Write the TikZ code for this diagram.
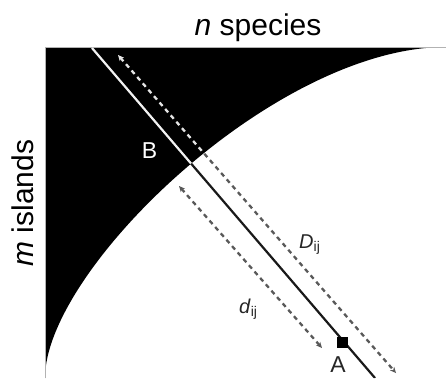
\documentclass[tikz,border=0pt]{standalone}
\usepackage{fontspec}
\setmainfont{Liberation Sans}
\usetikzlibrary{arrows.meta}
\begin{document}
\begin{tikzpicture}[x=1pt,y=-1pt,
  big/.style={font=\fontsize{30}{33}\selectfont, inner sep=0pt},
  pt/.style={font=\fontsize{23}{26}\selectfont, inner sep=0pt},
  sml/.style={font=\fontsize{20}{23}\selectfont, inner sep=0pt},
  dist/.style={line width=2.3pt, dash pattern=on 4.5pt off 4pt,
    {Stealth[length=6pt,width=5.5pt]}-{Stealth[length=6pt,width=5.5pt]}},
  solidline/.style={line width=2.2pt}]
\useasboundingbox (0,0) rectangle (446,378);
% black region
\fill[black] (45,47) -- (446,47) .. controls (275,47) and (45,270) .. (45,378) -- cycle;
\draw[gray!60, line width=1pt] (45,378) -- (45,47) -- (446,47);
% coordinates
\coordinate (top) at (92,48);
\coordinate (bot) at (375,378);
\coordinate (D1) at (118,55);
\coordinate (D2) at (396,373);
\coordinate (d1) at (179,186);
\coordinate (d2) at (322,348);
% parts inside the black region
\begin{scope}
  \clip (45,47) -- (446,47) .. controls (275,47) and (45,270) .. (45,378) -- cycle;
  \draw[solidline, white!90!gray] (top) -- (bot);
  \draw[dist, white!80!gray] (D1) -- (D2);
\end{scope}
% parts inside the white region
\begin{scope}
  \clip (45,378) .. controls (45,270) and (275,47) .. (446,47) -- (446,378) -- cycle;
  \draw[solidline, black!90] (top) -- (bot);
  \draw[dist, black!65] (D1) -- (D2);
  \draw[dist, black!65] (d1) -- (d2);
\end{scope}
% point A
\node[fill=black, minimum size=11pt, inner sep=0pt] (sq) at (342,342) {};
% labels
\node[big, anchor=base] (title) at (258,35) {\textit{n} species};
\node[big, anchor=base, rotate=90] (mis) at (33,203) {\textit{m} islands};
\node[pt, anchor=base, white] (B) at (149.5,158) {B};
\node[pt, anchor=base, black!85] (A) at (338,372) {A};
\node[sml, anchor=base west, black!85] (D) at (299,248) {\textit{D}\textsubscript{ij}};
\node[sml, anchor=base west, black!85] (d) at (239,313) {\textit{d}\textsubscript{ij}};
\end{tikzpicture}
\end{document}
